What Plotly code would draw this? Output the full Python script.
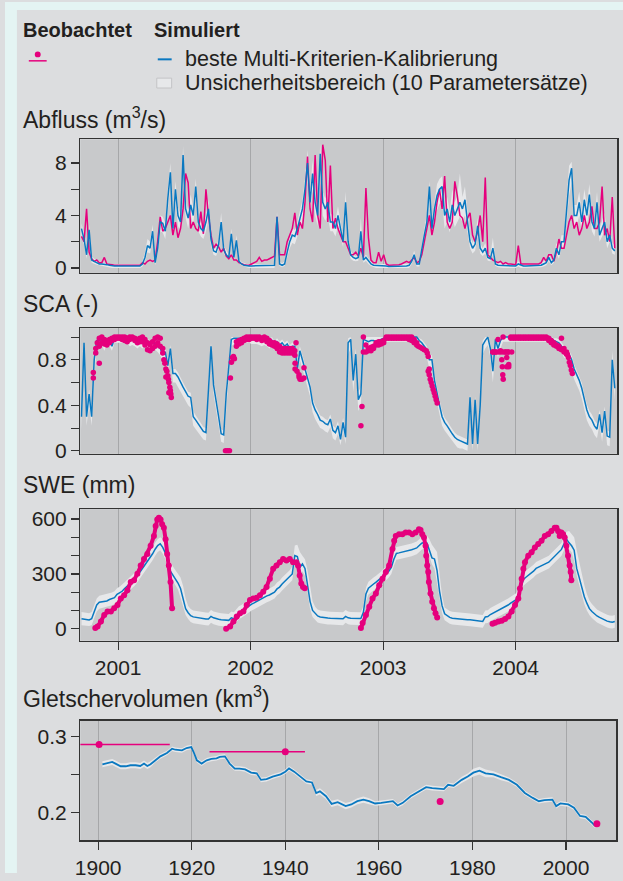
import numpy as np
import plotly.graph_objects as go

W, H = 623, 881

# ---------------- data ----------------
# weekly time grid (decimal years), first value 22 Sep 2000
T0 = 2000.7233
STEP = 7 / 365.25

# Abfluss (m3/s), weekly
q_obs = [2.4, 2.0, 4.5, 1.2, 0.7, 0.5, 0.6, 0.4, 0.4, 0.8,
         0.3, 0.3, 0.25, 0.2, 0.2, 0.2, 0.2, 0.2, 0.2, 0.2,
         0.2, 0.2, 0.2, 0.2, 0.4, 0.3, 0.5, 0.6, 0.5, 0.6,
         2.0, 3.9, 2.8, 3.0, 3.5, 4.0, 2.5, 3.5, 2.3, 3.0,
         4.5, 7.2, 6.5, 3.0, 3.5, 3.0, 2.8, 4.3, 2.6, 6.0,
         4.0, 2.5, 1.5, 1.8, 1.6, 1.2, 1.5, 0.9, 0.7, 1.0,
         0.6, 0.6, 0.4, 0.3, 0.25, 0.2, 0.2, 0.3, 0.4, 0.5,
         0.8, 0.5, 0.6, 0.6, 0.7, 0.8, 0.9, 3.9, 1.0, 1.0,
         1.0, 2.0, 2.5, 3.0, 4.2, 2.5, 3.5, 3.0, 5.0, 8.5,
         4.5, 3.5, 8.6, 4.0, 3.0, 9.4, 8.2, 3.5, 7.8, 3.0,
         3.8, 3.0, 2.5, 2.0, 2.0, 1.5, 1.0, 1.0, 1.2, 0.9,
         1.5, 0.8, 6.1, 2.3, 0.6, 0.4, 0.4, 1.2, 0.5, 1.0,
         0.3, 0.2, 0.2, 0.2, 0.2, 0.25, 0.3, 0.4, 0.5, 0.4,
         0.6, 0.8, 0.4, 0.5, 1.0, 2.0, 3.3, 4.0, 2.5, 3.5,
         5.0, 6.0, 4.5, 7.0, 3.5, 3.0, 3.5, 6.6, 5.5, 4.0,
         3.8, 3.0, 3.8, 4.2, 2.5, 2.0, 2.8, 4.0, 2.0, 6.9,
         1.0, 0.8, 0.6, 0.5, 0.4, 0.5, 0.3, 0.4, 0.3, 0.3,
         0.3, 0.25, 1.7, 0.3, 0.3, 0.3, 0.3, 0.3, 0.3, 0.3,
         0.3, 0.4, 0.8, 0.5, 1.0, 1.0, 0.5, 1.2, 2.2, 1.5,
         1.5, 2.5, 3.5, 4.0, 3.0, 3.5, 2.5, 3.0, 4.0, 3.0,
         3.5, 4.7, 3.0, 3.0, 3.5, 6.2, 2.5, 3.0, 2.0, 5.4, 1.5]
q_sim = [3.0, 2.2, 1.0, 2.9, 0.6, 0.5, 0.4, 0.3, 0.3, 0.3,
         0.25, 0.2, 0.15, 0.15, 0.15, 0.15, 0.15, 0.15, 0.15, 0.15,
         0.15, 0.15, 0.15, 0.15, 0.3, 0.8, 1.7, 1.5, 2.8, 0.4,
         1.5, 3.5, 3.4, 2.8, 5.3, 7.3, 3.0, 6.0, 4.0, 3.5,
         8.6, 4.5, 3.8, 4.8, 4.0, 6.2, 3.5, 3.0, 2.8, 3.5,
         4.5, 2.2, 1.3, 1.2, 1.8, 3.5, 1.4, 1.0, 0.8, 2.6,
         0.8, 2.1, 0.5, 0.3, 0.2, 0.15, 0.15, 0.15, 0.15, 0.15,
         0.2, 0.2, 0.2, 0.2, 0.2, 0.2, 0.2, 3.9, 0.3, 0.2,
         0.3, 1.2, 2.0, 2.5, 2.4, 3.0, 3.7, 4.5, 6.0, 8.0,
         5.0, 7.2, 5.0, 4.0, 8.7, 5.0, 4.5, 5.0, 3.5, 3.5,
         3.0, 4.0, 3.0, 2.0, 5.0, 2.0, 1.0, 0.8, 0.7, 0.8,
         2.8, 0.6, 0.8, 0.5, 0.3, 0.2, 0.2, 0.2, 0.2, 0.2,
         0.15, 0.1, 0.1, 0.1, 0.1, 0.1, 0.1, 0.15, 0.15, 0.2,
         0.5, 1.0, 0.3, 0.3, 1.5, 2.5, 3.5, 6.2, 3.0, 4.5,
         5.5, 6.0, 6.2, 4.0, 4.5, 3.5, 4.8, 4.0, 4.5, 5.0,
         4.5, 5.2, 3.5, 2.0, 1.5, 1.8, 3.2, 1.5, 1.2, 1.5,
         0.8, 0.7, 1.5, 0.3, 0.2, 0.2, 0.2, 0.2, 0.15, 0.15,
         0.15, 0.15, 0.3, 0.2, 0.15, 0.15, 0.15, 0.15, 0.15, 0.15,
         0.15, 0.2, 0.3, 0.4, 0.8, 0.4, 0.6, 1.5, 1.0, 2.0,
         2.0, 4.3, 6.7, 7.6, 4.0, 4.0, 5.0, 3.5, 5.2, 4.0,
         5.6, 3.5, 3.0, 5.0, 2.5, 3.0, 3.5, 2.0, 2.5, 1.5, 1.3]
q_hi = [3.4, 2.6, 1.4, 3.3, 0.9, 0.7, 0.6, 0.5, 0.4, 0.4,
        0.35, 0.3, 0.3, 0.3, 0.3, 0.3, 0.3, 0.3, 0.3, 0.3,
        0.3, 0.3, 0.3, 0.3, 0.5, 1.2, 2.2, 2.0, 3.3, 0.8,
        2.0, 4.0, 3.9, 3.4, 6.0, 8.0, 3.6, 6.6, 4.6, 4.1,
        9.3, 5.2, 4.4, 5.6, 4.6, 6.8, 4.0, 3.5, 3.2, 4.0,
        5.2, 2.6, 1.6, 1.5, 2.2, 4.2, 1.7, 1.3, 1.0, 3.0,
        1.0, 2.5, 0.7, 0.45, 0.35, 0.3, 0.3, 0.3, 0.3, 0.3,
        0.3, 0.3, 0.3, 0.3, 0.3, 0.3, 0.3, 4.3, 0.5, 0.35,
        0.5, 1.5, 2.4, 3.0, 2.9, 3.5, 4.3, 5.2, 6.8, 9.0,
        5.8, 8.2, 5.8, 4.7, 9.5, 5.8, 5.3, 5.8, 4.1, 4.1,
        3.6, 4.7, 3.5, 2.4, 5.8, 2.4, 1.3, 1.0, 0.9, 1.0,
        3.8, 0.8, 1.0, 0.7, 0.45, 0.35, 0.3, 0.3, 0.3, 0.3,
        0.3, 0.25, 0.25, 0.25, 0.25, 0.25, 0.25, 0.3, 0.3, 0.35,
        0.7, 1.3, 0.5, 0.5, 1.9, 3.0, 4.1, 6.6, 3.6, 5.2,
        6.4, 6.8, 7.0, 4.8, 5.4, 4.3, 6.0, 5.0, 5.5, 7.2,
        5.4, 6.2, 4.2, 2.5, 1.9, 2.3, 3.8, 1.9, 1.5, 1.9,
        1.1, 1.0, 2.3, 0.5, 0.4, 0.35, 0.35, 0.35, 0.3, 0.3,
        0.3, 0.3, 0.5, 0.35, 0.3, 0.3, 0.3, 0.3, 0.3, 0.3,
        0.3, 0.35, 0.5, 0.6, 1.1, 0.6, 0.9, 1.9, 1.4, 2.5,
        2.5, 5.0, 7.8, 8.1, 4.8, 4.8, 5.8, 4.2, 6.0, 4.8,
        6.4, 4.2, 3.6, 5.8, 3.0, 3.6, 4.2, 2.5, 3.0, 1.9, 1.7]
q_lo = [2.3, 1.8, 0.7, 2.3, 0.4, 0.3, 0.25, 0.2, 0.15, 0.15,
        0.1, 0.05, 0.0, 0.0, 0.0, 0.0, 0.0, 0.0, 0.0, 0.0,
        0.0, 0.0, 0.0, 0.0, 0.1, 0.5, 1.2, 1.1, 2.2, 0.2,
        1.1, 2.8, 2.7, 2.2, 4.4, 6.3, 2.3, 5.0, 3.2, 2.8,
        7.6, 3.8, 3.0, 4.0, 3.3, 5.3, 2.8, 2.4, 2.2, 2.8,
        3.7, 1.7, 1.0, 0.9, 1.4, 2.8, 1.1, 0.8, 0.6, 2.1,
        0.6, 1.7, 0.35, 0.2, 0.1, 0.05, 0.0, 0.0, 0.0, 0.0,
        0.0, 0.0, 0.0, 0.0, 0.0, 0.0, 0.0, 3.3, 0.15, 0.05,
        0.15, 0.8, 1.5, 1.9, 1.8, 2.4, 3.0, 3.6, 5.0, 6.8,
        4.0, 6.0, 4.0, 3.2, 7.4, 4.0, 3.6, 4.0, 2.8, 2.8,
        2.4, 3.2, 2.4, 1.6, 4.0, 1.5, 0.7, 0.55, 0.5, 0.55,
        2.0, 0.4, 0.55, 0.3, 0.15, 0.05, 0.0, 0.0, 0.0, 0.0,
        0.0, -0.05, -0.05, -0.05, -0.05, -0.05, -0.05, -0.05, -0.05, 0.0,
        0.3, 0.7, 0.1, 0.1, 1.1, 1.9, 2.8, 5.0, 2.3, 3.6,
        4.4, 4.9, 5.0, 3.0, 3.5, 2.7, 3.8, 3.1, 3.5, 3.9,
        3.5, 4.0, 2.7, 1.5, 1.1, 1.3, 2.5, 1.1, 0.9, 1.1,
        0.55, 0.5, 1.0, 0.15, 0.05, 0.0, 0.0, 0.0, 0.0, 0.0,
        0.0, 0.0, 0.1, 0.0, 0.0, 0.0, 0.0, 0.0, 0.0, 0.0,
        0.0, 0.05, 0.1, 0.2, 0.5, 0.2, 0.4, 1.1, 0.7, 1.5,
        1.5, 3.5, 5.5, 6.5, 3.2, 3.2, 4.0, 2.8, 4.2, 3.2,
        4.6, 2.8, 2.4, 4.0, 2.0, 2.4, 2.8, 1.5, 2.0, 1.1, 1.0]

# SCA (-), weekly
sca_sim = [0.3, 0.95, 0.3, 0.5, 0.3, 0.8, 0.97, 0.97, 0.98, 0.93,
           0.98, 0.97, 0.92, 0.99, 0.99, 0.99, 0.99, 0.99, 0.99, 0.97,
           0.98, 0.97, 0.95, 0.97, 0.95, 0.98, 0.96, 0.93, 0.95, 0.94,
           0.92, 0.9, 0.85, 0.87, 0.75, 0.9, 0.68, 0.68, 0.65, 0.6,
           0.56, 0.52, 0.48, 0.47, 0.3, 0.27, 0.24, 0.2, 0.17, 0.16,
           0.6, 0.92, 0.58, 0.45, 0.3, 0.15, 0.14, 0.5, 0.75, 0.98,
           0.99, 0.99, 0.99, 0.99, 1.0, 1.0, 1.0, 0.99, 0.99, 0.99, 0.98, 0.97, 0.98,
           0.97, 0.95, 0.97, 0.93, 0.96, 0.93, 0.95, 0.92, 0.94, 0.9, 0.92, 0.92,
           0.72, 0.88, 0.8, 0.72, 0.65, 0.56, 0.42, 0.36, 0.32, 0.27,
           0.26, 0.24, 0.23, 0.28, 0.18, 0.16, 0.22, 0.1, 0.25, 0.12,
           0.95, 0.98, 0.62, 0.85, 0.45, 0.5, 0.98,
           0.97, 0.96, 0.97, 0.97, 0.96, 0.97, 0.98, 0.99,
           1.0, 1.0, 1.0, 1.0, 1.0, 1.0, 1.0, 1.0, 1.0, 1.0, 1.0, 1.0, 1.0,
           0.97, 0.95, 0.92, 0.89, 0.8, 0.8, 0.62, 0.5, 0.4, 0.3,
           0.25, 0.22, 0.18, 0.15, 0.12, 0.1, 0.09, 0.08, 0.07, 0.06,
           0.47, 0.06, 0.45, 0.06, 0.4,
           0.93, 0.97, 1.0, 0.9, 0.7, 0.98, 0.9, 0.97,
           1.0, 1.0, 1.0, 1.0, 1.0, 1.0, 1.0, 1.0, 1.0, 1.0,
           1.0, 1.0, 1.0, 1.0, 1.0, 1.0, 1.0, 1.0, 1.0,
           0.99, 0.97, 0.96, 0.95, 0.92, 0.89, 0.87, 0.85, 0.8, 0.72,
           0.67, 0.62, 0.55, 0.45, 0.36, 0.3, 0.27, 0.22, 0.19, 0.32,
           0.16, 0.35, 0.13, 0.12, 0.8, 0.55]
sca_hi = [0.34, 0.97, 0.34, 0.54, 0.34, 0.85, 0.99, 0.99, 1.0, 0.96,
          1.0, 1.0, 1.0, 1.0, 1.0, 1.0, 1.0, 1.0, 1.0, 1.0,
          1.0, 1.0, 0.98, 1.0, 0.98, 1.0, 0.99, 0.96, 0.98, 0.97,
          0.95, 0.94, 0.9, 0.9, 0.8, 0.93, 0.72, 0.72, 0.69, 0.64,
          0.6, 0.56, 0.52, 0.51, 0.35, 0.31, 0.28, 0.24, 0.21, 0.2,
          0.66, 0.95, 0.63, 0.5, 0.35, 0.19, 0.18, 0.55, 0.8, 1.0,
          1.0, 1.0, 1.0, 1.0, 1.0, 1.0, 1.0, 1.0, 1.0, 1.0, 1.0, 1.0, 1.0,
          1.0, 0.98, 1.0, 0.96, 0.99, 0.96, 0.98, 0.95, 0.97, 0.93, 0.95, 0.95,
          0.78, 0.92, 0.84, 0.76, 0.69, 0.6, 0.46, 0.4, 0.36, 0.31,
          0.3, 0.28, 0.27, 0.32, 0.22, 0.2, 0.26, 0.14, 0.29, 0.16,
          0.99, 1.0, 0.68, 0.9, 0.52, 0.56, 1.0,
          1.0, 1.0, 1.0, 1.0, 1.0, 1.0, 1.0, 1.0,
          1.0, 1.0, 1.0, 1.0, 1.0, 1.0, 1.0, 1.0, 1.0, 1.0, 1.0, 1.0, 1.0,
          0.99, 0.98, 0.95, 0.92, 0.85, 0.84, 0.67, 0.55, 0.45, 0.35,
          0.29, 0.26, 0.22, 0.19, 0.16, 0.14, 0.13, 0.12, 0.11, 0.1,
          0.5, 0.1, 0.48, 0.1, 0.44,
          0.97, 1.0, 1.0, 0.94, 0.76, 1.0, 0.94, 1.0,
          1.0, 1.0, 1.0, 1.0, 1.0, 1.0, 1.0, 1.0, 1.0, 1.0,
          1.0, 1.0, 1.0, 1.0, 1.0, 1.0, 1.0, 1.0, 1.0,
          1.0, 0.99, 0.99, 0.98, 0.95, 0.92, 0.9, 0.88, 0.84, 0.76,
          0.71, 0.66, 0.6, 0.5, 0.41, 0.35, 0.32, 0.27, 0.24, 0.36,
          0.21, 0.39, 0.18, 0.17, 0.88, 0.6]
sca_lo = [0.18, 0.85, 0.22, 0.4, 0.22, 0.65, 0.9, 0.92, 0.93, 0.88,
          0.93, 0.92, 0.88, 0.95, 0.95, 0.95, 0.95, 0.95, 0.95, 0.92,
          0.93, 0.92, 0.9, 0.92, 0.9, 0.93, 0.91, 0.88, 0.9, 0.89,
          0.87, 0.84, 0.78, 0.8, 0.68, 0.84, 0.6, 0.6, 0.56, 0.52,
          0.48, 0.44, 0.4, 0.38, 0.22, 0.19, 0.16, 0.13, 0.1, 0.09,
          0.5, 0.85, 0.5, 0.37, 0.22, 0.08, 0.07, 0.4, 0.65, 0.92,
          0.94, 0.94, 0.94, 0.94, 0.95, 0.95, 0.95, 0.94, 0.94, 0.94, 0.93, 0.92, 0.93,
          0.92, 0.9, 0.92, 0.88, 0.91, 0.88, 0.9, 0.87, 0.89, 0.85, 0.86, 0.85,
          0.64, 0.8, 0.72, 0.64, 0.57, 0.48, 0.34, 0.28, 0.24, 0.2,
          0.19, 0.17, 0.16, 0.21, 0.11, 0.09, 0.15, 0.05, 0.18, 0.06,
          0.85, 0.9, 0.52, 0.75, 0.35, 0.4, 0.9,
          0.92, 0.91, 0.92, 0.92, 0.91, 0.92, 0.93, 0.94,
          0.96, 0.96, 0.96, 0.96, 0.96, 0.96, 0.96, 0.96, 0.96, 0.96, 0.96, 0.96, 0.96,
          0.93, 0.9, 0.86, 0.82, 0.72, 0.72, 0.54, 0.42, 0.32, 0.22,
          0.18, 0.15, 0.11, 0.08, 0.05, 0.03, 0.02, 0.02, 0.01, 0.0,
          0.4, 0.0, 0.38, 0.0, 0.33,
          0.85, 0.9, 0.93, 0.82, 0.6, 0.9, 0.82, 0.9,
          0.96, 0.96, 0.96, 0.96, 0.96, 0.96, 0.96, 0.96, 0.96, 0.96,
          0.96, 0.96, 0.96, 0.96, 0.96, 0.96, 0.96, 0.96, 0.96,
          0.94, 0.92, 0.91, 0.89, 0.86, 0.82, 0.8, 0.77, 0.71, 0.63,
          0.58, 0.53, 0.46, 0.36, 0.27, 0.22, 0.19, 0.14, 0.11, 0.24,
          0.08, 0.27, 0.05, 0.04, 0.7, 0.45]

# observed SCA on the weekly grid (two readings per week, None = no observation)
N7, N28, N26, N29, N19 = [None] * 7, [None] * 28, [None] * 26, [None] * 29, [None] * 19
sca_obs_a = (N7 +
             [0.99, 1.0, 0.98, 0.97, 0.98, 0.99, 1.0, 1.0, 1.0, 1.0, 1.0, 0.99, 1.0,
              1.0, 0.99, 0.98, 0.99, 1.0, 0.98, 0.95, 0.93, 0.96, 0.99, 1.0, 0.99, 0.9] + N28 +
             [0.96, 0.97, 0.98, 0.99, 1.0, 1.0, 1.0, 1.0, 1.0, 1.0, 0.99, 1.0,
              0.99, 0.97, 0.95, 0.95, 0.94, 0.92, 0.9, 0.9, 0.9, 0.9, 0.9, 0.88] + N26 +
             [1.0, 0.93, 0.9, 0.91, 0.92, 0.95, 0.96, 0.96, 0.97, 1.0, 1.0,
              1.0, 1.0, 1.0, 1.0, 1.0, 1.0, 1.0, 1.0, 1.0, 0.98, 0.95] + N29 +
             [0.87, 0.87, 0.98, 0.88, 1.0, 0.87, 0.87, 1.0, 1.0, 1.0, 1.0, 1.0, 1.0, 1.0, 1.0,
              1.0, 1.0, 1.0, 1.0, 1.0, 1.0, 1.0, 0.99, 0.97, 0.95, 0.93, 0.92, 0.99, 0.9, 0.87] + N19)
sca_obs_b = (N7 +
             [0.92, 0.95, 0.94, 0.93, 0.95, 0.97, 0.98, 0.99, 0.99, 0.98, 0.97, 0.96, 0.98,
              0.99, 0.97, 0.95, 0.96, 0.96, 0.93, 0.89, 0.88, 0.9, 0.92, 0.95, 0.92, 0.86] + N28 +
             [0.92, 0.94, 0.95, 0.97, 0.98, 0.98, 0.99, 0.99, 0.98, 0.99, 0.97, 0.98,
              0.96, 0.94, 0.93, 0.92, 0.9, 0.87, 0.86, 0.86, 0.86, 0.86, 0.86, 0.84] + N26 +
             [0.87, 0.87, 0.88, 0.88, 0.9, 0.93, 0.93, 0.94, 0.95, 0.99, 0.99,
              0.99, 0.99, 0.99, 0.99, 0.99, 0.99, 0.99, 0.98, 0.97, 0.95, 0.93] + N29 +
             [0.87, 0.87, 0.87, 0.87, 0.87, 0.87, 0.87, 0.99, 0.99, 0.99, 0.99, 0.99, 0.99, 0.99, 0.99,
              0.99, 0.99, 0.99, 0.99, 0.99, 0.99, 0.99, 0.97, 0.95, 0.93, 0.92, 0.9, 0.89, 0.87, 0.85] + N19)
# further observed SCA values (decimal year, value)
sca_ext_t = [2000.8125, 2000.8125, 2000.831, 2000.831, 2000.8425, 2000.8575,
             2001.345, 2001.3525, 2001.36, 2001.36, 2001.3675, 2001.375, 2001.379, 2001.3825,
             2001.3825, 2001.39, 2001.394, 2001.3975, 2001.401,
             2001.81, 2001.825, 2001.84, 2001.8475, 2001.855, 2001.8625, 2001.87, 2001.8775,
             2002.3425, 2002.335, 2002.335, 2002.35, 2002.365, 2002.365, 2002.3725, 2002.3875,
             2002.4025, 2002.4025,
             2002.832, 2002.84, 2003.265, 2003.28, 2003.295, 2003.31, 2003.325, 2003.3325,
             2003.34, 2003.34, 2003.3475, 2003.3475, 2003.355, 2003.3625, 2003.37, 2003.3775,
             2003.385, 2003.3925, 2003.40, 2003.4075,
             2003.895, 2003.899, 2003.9025, 2003.906, 2003.9325, 2003.9325, 2003.9475, 2003.9475,
             2003.97, 2004.39, 2004.3975, 2004.405, 2004.4125, 2004.42, 2004.4275]
sca_ext_v = [0.69, 0.64, 0.86, 0.9, 0.95, 0.77,
             0.8, 0.77, 0.72, 0.65, 0.7, 0.66, 0.63, 0.6,
             0.51, 0.56, 0.53, 0.5, 0.47,
             0.0, 0.0, 0.0, 0.64, 0.78, 0.82, 0.83, 0.81,
             0.95, 0.77, 0.72, 0.7, 0.67, 0.65, 0.63, 0.63,
             0.64, 0.73,
             0.22, 0.39, 0.92, 0.91, 0.9, 0.89, 0.88, 0.86,
             0.83, 0.7, 0.67, 0.72, 0.63, 0.6, 0.57, 0.54,
             0.51, 0.48, 0.45, 0.42,
             0.8, 0.74, 0.67, 0.63, 0.82, 0.74, 0.74, 0.76,
             0.87, 0.85, 0.82, 0.78, 0.75, 0.71, 0.68]

# SWE (mm), weekly
swe_sim = [55, 52, 50, 48, 55, 90, 130, 145, 148, 150,
           152, 160, 163, 170, 188, 195, 205, 220, 232, 245,
           260, 272, 290, 310, 330, 345, 368, 392, 410, 435,
           455, 465, 445, 415, 375, 315, 295, 275, 250, 220,
           160, 110, 88, 72, 65, 62, 60, 58, 56, 54,
           53, 68, 60, 55, 52, 50, 48, 47, 46, 60,
           55, 72, 88, 95, 105, 120, 128, 135, 142, 150,
           160, 168, 175, 180, 185, 192, 200, 218, 228, 245,
           258, 270, 285, 300, 400, 395, 335, 355, 330, 250,
           150, 100, 85, 70, 65, 62, 60, 59, 58, 58,
           57, 56, 55, 55, 68, 60, 57, 56, 55, 55,
           56, 90, 190, 222, 235, 245, 255, 265, 278, 295,
           302, 315, 335, 380, 412, 415, 418, 420, 424, 428,
           432, 437, 442, 455, 468, 473, 470, 430, 388, 382,
           320, 205, 125, 82, 70, 62, 58, 56, 54, 53,
           52, 51, 50, 49, 48, 46, 44, 42, 40, 65,
           67, 78, 85, 95, 103, 108, 115, 121, 130, 140,
           148, 158, 180, 225, 270, 282, 292, 302, 315, 330,
           338, 345, 352, 358, 364, 378, 392, 405, 418, 434,
           465, 490, 470, 454, 430, 330, 280, 225, 175, 140,
           110, 94, 80, 70, 62, 54, 48, 42, 38, 36, 40]
swe_hi = [92, 90, 88, 85, 92, 125, 165, 180, 183, 185,
          188, 195, 198, 205, 222, 230, 240, 255, 268, 280,
          295, 308, 325, 345, 365, 380, 403, 428, 445, 470,
          490, 500, 490, 465, 430, 370, 340, 320, 300, 280,
          235, 165, 125, 108, 100, 97, 95, 93, 91, 89,
          88, 103, 95, 90, 87, 85, 83, 82, 81, 95,
          90, 107, 123, 130, 140, 155, 163, 170, 177, 185,
          195, 203, 210, 215, 220, 227, 235, 253, 263, 280,
          293, 305, 320, 340, 455, 460, 420, 400, 380, 320,
          230, 150, 120, 105, 100, 97, 95, 94, 93, 93,
          92, 91, 90, 90, 103, 95, 92, 91, 90, 90,
          91, 125, 225, 257, 270, 280, 290, 300, 313, 330,
          337, 350, 370, 415, 447, 450, 453, 455, 459, 463,
          467, 472, 477, 490, 503, 510, 510, 490, 460, 440,
          420, 300, 180, 117, 105, 97, 93, 91, 89, 88,
          87, 86, 85, 84, 83, 81, 79, 77, 75, 100,
          102, 113, 120, 130, 138, 143, 150, 156, 165, 175,
          183, 193, 215, 260, 305, 317, 327, 337, 350, 365,
          373, 380, 387, 393, 399, 413, 427, 440, 453, 469,
          500, 530, 535, 520, 500, 430, 360, 300, 240, 190,
          155, 135, 118, 105, 97, 89, 83, 77, 73, 71, 75]
swe_lo = [20, 18, 17, 15, 20, 55, 95, 110, 113, 115,
          118, 125, 128, 135, 153, 160, 170, 185, 197, 210,
          225, 237, 255, 275, 295, 310, 333, 357, 375, 400,
          420, 430, 410, 380, 335, 280, 260, 240, 215, 170,
          120, 75, 53, 37, 30, 27, 25, 23, 21, 19,
          18, 33, 25, 20, 17, 15, 13, 12, 11, 25,
          20, 37, 53, 60, 70, 85, 93, 100, 107, 115,
          125, 133, 140, 145, 150, 157, 165, 183, 193, 210,
          223, 235, 250, 265, 360, 355, 300, 315, 290, 200,
          110, 65, 50, 35, 30, 27, 25, 24, 23, 23,
          22, 21, 20, 20, 33, 25, 22, 21, 20, 20,
          21, 55, 150, 187, 200, 210, 220, 230, 243, 260,
          267, 280, 300, 345, 377, 380, 383, 385, 389, 393,
          397, 402, 407, 420, 433, 438, 435, 395, 353, 330,
          250, 150, 85, 47, 35, 27, 23, 21, 19, 18,
          17, 16, 15, 14, 13, 11, 9, 7, 5, 30,
          32, 43, 50, 60, 68, 73, 80, 86, 95, 105,
          113, 123, 145, 190, 235, 247, 257, 267, 280, 295,
          303, 310, 317, 323, 329, 343, 357, 370, 383, 399,
          430, 455, 435, 419, 370, 290, 240, 185, 135, 100,
          75, 59, 45, 35, 27, 19, 13, 7, 3, 1, 5]
# observed SWE (decimal year, mm); None separates the winters
swe_obs_t = [2000.8275, 2000.8448, 2000.870, 2000.895, 2000.920, 2000.945, 2000.970, 2000.995,
             2001.020, 2001.045, 2001.070, 2001.095, 2001.120, 2001.145, 2001.170, 2001.195,
             2001.220, 2001.245, 2001.270, 2001.283, 2001.295, 2001.3075, 2001.320, 2001.332,
             2001.345, 2001.358, 2001.370, 2001.3825, 2001.395, 2001.407, None,
             2001.815, 2001.845, 2001.870, 2001.895, 2001.920, 2001.945, 2001.970, 2001.995,
             2002.020, 2002.045, 2002.070, 2002.095, 2002.120, 2002.145, 2002.170, 2002.195,
             2002.220, 2002.245, 2002.270, 2002.295, 2002.320, 2002.345, 2002.3575, 2002.370,
             2002.382, 2002.395, 2002.408, None,
             2002.832, 2002.845, 2002.870, 2002.895, 2002.920, 2002.945, 2002.970, 2002.995,
             2003.020, 2003.045, 2003.070, 2003.083, 2003.095, 2003.120, 2003.145, 2003.170,
             2003.195, 2003.220, 2003.245, 2003.270, 2003.282, 2003.295, 2003.308, 2003.320,
             2003.325, 2003.3325, 2003.340, 2003.345, 2003.357, 2003.370, 2003.383, 2003.395,
             2003.4075, None,
             2003.825, 2003.845, 2003.870, 2003.895, 2003.920, 2003.945, 2003.970, 2003.995,
             2004.020, 2004.032, 2004.045, 2004.058, 2004.070, 2004.095, 2004.120, 2004.145,
             2004.170, 2004.195, 2004.220, 2004.245, 2004.270, 2004.295, 2004.3075, 2004.320,
             2004.332, 2004.345, 2004.358, 2004.370, 2004.3825, 2004.395, 2004.407, 2004.415,
             2004.420]
swe_obs_v = [4, 13, 40, 76, 94, 94, 112, 130,
             166, 184, 211, 256, 265, 301, 346, 382,
             409, 454, 508, 562, 598, 607, 598, 571,
             553, 490, 409, 346, 256, 112, None,
             0, 13, 40, 67, 85, 94, 130, 157,
             166, 170, 184, 202, 229, 274, 328, 346,
             364, 382, 373, 382, 364, 364, 346, 292,
             247, 229, 222, None,
             4, 31, 76, 121, 166, 193, 238, 274,
             310, 346, 436, 481, 508, 517, 517, 526,
             526, 517, 526, 544, 540, 517, 499, 454,
             400, 346, 310, 256, 193, 148, 112, 85,
             62, None,
             27, 33, 40, 44, 54, 67, 94, 130,
             166, 220, 274, 328, 364, 400, 418, 445,
             463, 481, 508, 517, 535, 553, 553, 535,
             508, 526, 517, 499, 454, 400, 346, 310,
             265]

# Gletschervolumen (km3)
gv_year = [1900.9, 1902, 1903, 1903.7, 1904.8, 1905.9, 1906.9, 1908, 1909, 1909.8,
           1910.5, 1911.2, 1912.2, 1913.3, 1914.7, 1915.8, 1916.5, 1917.9, 1918.9, 1919.9,
           1920.4, 1921.1, 1922.1, 1923.2, 1924.2, 1925.3, 1926, 1927.1, 1928.1, 1929.2,
           1930.2, 1931.4, 1932.7, 1933.9, 1934.8, 1936, 1937.3, 1939, 1940, 1940.8,
           1941.9, 1943.2, 1944.5, 1945.7, 1946.6, 1947.4, 1948.7, 1949.9, 1951.2, 1952.9,
           1954.1, 1955.4, 1956.7, 1957.9, 1959.2, 1960.5, 1961.7, 1963, 1964, 1965.1,
           1966.8, 1968.5, 1970.1, 1971.4, 1972.7, 1973.9, 1974.8, 1976, 1977.7, 1979,
           1980.2, 1981.5, 1982.8, 1984.5, 1986.1, 1987.8, 1989.5, 1991.2, 1992.9, 1994.2,
           1995.4, 1997.1, 1997.9, 1998.8, 2000.5, 2001.7, 2003, 2004.2, 2005.5, 2006.2]
gv_sim = [0.2636, 0.2655, 0.2667, 0.2645, 0.261, 0.261, 0.2623, 0.2623, 0.2614, 0.2645,
          0.2614, 0.2636, 0.2688, 0.274, 0.2784, 0.284, 0.2827, 0.2818, 0.2849, 0.2862,
          0.2797, 0.2688, 0.2645, 0.2688, 0.2706, 0.2715, 0.2732, 0.274, 0.2645, 0.258,
          0.258, 0.2569, 0.2526, 0.2517, 0.2431, 0.244, 0.2474, 0.2504, 0.2539, 0.2582,
          0.2539, 0.2474, 0.241, 0.2397, 0.2259, 0.228, 0.2216, 0.2116, 0.2138, 0.2086,
          0.2108, 0.2151, 0.2172, 0.2151, 0.2121, 0.2129, 0.2138, 0.2151, 0.2095, 0.2129,
          0.2216, 0.228, 0.2336, 0.2323, 0.2319, 0.231, 0.2366, 0.2353, 0.2431, 0.2474,
          0.2526, 0.2552, 0.2517, 0.2504, 0.2466, 0.2431, 0.2366, 0.2259, 0.2194, 0.2151,
          0.2164, 0.2172, 0.2086, 0.2121, 0.2108, 0.2065, 0.1957, 0.1944, 0.1871, 0.1828]
gv_half = [0.004, 0.004, 0.004, 0.004, 0.004, 0.004, 0.004, 0.004, 0.004, 0.004,
           0.004, 0.004, 0.003, 0.003, 0.003, 0.003, 0.003, 0.003, 0.003, 0.003,
           0.003, 0.003, 0.003, 0.003, 0.003, 0.003, 0.003, 0.003, 0.003, 0.003,
           0.003, 0.003, 0.003, 0.003, 0.003, 0.003, 0.003, 0.003, 0.003, 0.003,
           0.003, 0.003, 0.003, 0.003, 0.004, 0.004, 0.004, 0.004, 0.004, 0.004,
           0.004, 0.004, 0.004, 0.004, 0.003, 0.003, 0.003, 0.003, 0.003, 0.003,
           0.003, 0.003, 0.003, 0.003, 0.003, 0.003, 0.003, 0.003, 0.004, 0.004,
           0.005, 0.005, 0.005, 0.004, 0.004, 0.003, 0.003, 0.003, 0.003, 0.003,
           0.003, 0.003, 0.003, 0.003, 0.003, 0.003, 0.003, 0.003, 0.003, 0.003]
gv_obs_year = [1900.2, 1940.0, 1973.1, 2006.6]
gv_obs = [0.2896, 0.2802, 0.2148, 0.1853]
gv_obs_from = [1890.0, 1923.8]
gv_obs_to = [1915.3, 1944.2]
gv_obs_level = [0.2896, 0.2802]

# ---------------- styling ----------------
BLUE = '#0a78c0'
MAG = '#e5007d'
BAND = '#e7e8ea'
PLOTBG = '#c8c9cb'
PANEL = '#dcdddf'
FRAME = '#333333'
GRID = '#a6a7a9'
TXT = '#231f20'
FONT = 'Liberation Sans, Arial, sans-serif'


def px(x):
    return x / W


def py(y):
    return 1 - y / H


def weeks(n):
    return T0 + STEP * np.arange(n)


fig = go.Figure()


def band(x, lo, hi, xa, ya):
    fig.add_trace(go.Scatter(x=x, y=lo, mode='lines', line=dict(width=0, color=BAND),
                             xaxis=xa, yaxis=ya, hoverinfo='skip'))
    fig.add_trace(go.Scatter(x=x, y=hi, mode='lines', line=dict(width=0, color=BAND),
                             fill='tonexty', fillcolor=BAND, xaxis=xa, yaxis=ya, hoverinfo='skip'))


# panel 1 : Abfluss
tq = weeks(len(q_sim))
band(tq, q_lo, q_hi, 'x', 'y')
fig.add_trace(go.Scatter(x=tq, y=q_obs, mode='lines', line=dict(color=MAG, width=1.5), xaxis='x', yaxis='y'))
fig.add_trace(go.Scatter(x=tq, y=q_sim, mode='lines', line=dict(color=BLUE, width=1.5), xaxis='x', yaxis='y'))

# panel 2 : SCA
ts = weeks(len(sca_sim))
band(ts, sca_lo, sca_hi, 'x2', 'y2')
fig.add_trace(go.Scatter(x=ts, y=sca_sim, mode='lines', line=dict(color=BLUE, width=1.5), xaxis='x2', yaxis='y2'))
for vals in (sca_obs_a, sca_obs_b):
    fig.add_trace(go.Scatter(x=weeks(len(vals)), y=vals, mode='markers',
                             marker=dict(color=MAG, size=5.5, line=dict(width=0)), xaxis='x2', yaxis='y2'))
fig.add_trace(go.Scatter(x=sca_ext_t, y=sca_ext_v, mode='markers',
                         marker=dict(color=MAG, size=5.5, line=dict(width=0)), xaxis='x2', yaxis='y2'))

# panel 3 : SWE
tw = weeks(len(swe_sim))
band(tw, swe_lo, swe_hi, 'x3', 'y3')
fig.add_trace(go.Scatter(x=tw, y=swe_sim, mode='lines', line=dict(color=BLUE, width=1.5), xaxis='x3', yaxis='y3'))
fig.add_trace(go.Scatter(x=swe_obs_t, y=swe_obs_v, mode='lines+markers', connectgaps=False,
                         line=dict(color=MAG, width=4), marker=dict(color=MAG, size=6, line=dict(width=0)),
                         xaxis='x3', yaxis='y3'))

# panel 4 : Gletschervolumen
gv_lo = [v - h for v, h in zip(gv_sim, gv_half)]
gv_hi = [v + h for v, h in zip(gv_sim, gv_half)]
band(gv_year, gv_lo, gv_hi, 'x4', 'y4')
fig.add_trace(go.Scatter(x=gv_year, y=gv_sim, mode='lines', line=dict(color=BLUE, width=1.8), xaxis='x4', yaxis='y4'))
for a, b, lev in zip(gv_obs_from, gv_obs_to, gv_obs_level):
    fig.add_trace(go.Scatter(x=[a, b], y=[lev, lev], mode='lines', line=dict(color=MAG, width=1.5),
                             xaxis='x4', yaxis='y4'))
fig.add_trace(go.Scatter(x=gv_obs_year, y=gv_obs, mode='markers', marker=dict(color=MAG, size=7),
                         xaxis='x4', yaxis='y4'))

# ---------------- axes ----------------
XD = [px(76), px(617)]
tickfont = dict(family=FONT, size=21, color=TXT)
common_x = dict(domain=XD, showgrid=True, gridcolor=GRID, gridwidth=1, zeroline=False,
                showline=True, mirror=True, linecolor=FRAME, linewidth=1.5)
common_y = dict(showgrid=False, zeroline=False, showline=True, mirror=True, linecolor=FRAME,
                linewidth=1.5, ticks='outside', ticklen=8, tickwidth=1.2, tickcolor=FRAME,
                tickfont=tickfont)
years = [2001, 2002, 2003, 2004]
XR = [2000.715, 2004.765]

layout_axes = dict(
    xaxis=dict(common_x, range=XR, tickvals=years, showticklabels=False, ticks='', anchor='y'),
    yaxis=dict(common_y, domain=[py(274), py(139)], range=[-0.38, 9.8], tickvals=[0, 4, 8],
               ticktext=['0', '4', '8'], anchor='x',
               minor=dict(tickvals=[2, 6], ticks='outside', ticklen=8, tickwidth=1.2, tickcolor=FRAME)),
    xaxis2=dict(common_x, range=XR, tickvals=years, showticklabels=False, ticks='', anchor='y2'),
    yaxis2=dict(common_y, domain=[py(457), py(330)], range=[-0.026, 1.078], tickvals=[0, 0.4, 0.8],
                ticktext=['0', '0.4', '0.8'], anchor='x2',
                minor=dict(tickvals=[0.2, 0.6, 1.0], ticks='outside', ticklen=8, tickwidth=1.2, tickcolor=FRAME)),
    xaxis3=dict(common_x, range=XR, tickvals=years, ticktext=[str(y) for y in years], ticks='outside',
                ticklen=8, tickwidth=1.2, tickcolor=FRAME, tickfont=tickfont, anchor='y3'),
    yaxis3=dict(common_y, domain=[py(646), py(513)], range=[-65, 654], tickvals=[0, 300, 600],
                ticktext=['0', '300', '600'], anchor='x3',
                minor=dict(tickvals=[100, 200, 400, 500], ticks='outside', ticklen=8, tickwidth=1.2, tickcolor=FRAME)),
    xaxis4=dict(common_x, domain=[px(76), px(616)], range=[1896.2, 2010.7],
                tickvals=[1900, 1920, 1940, 1960, 1980, 2000],
                ticktext=['1900', '1920', '1940', '1960', '1980', '2000'], ticks='outside',
                ticklen=8, tickwidth=1.2, tickcolor=FRAME, tickfont=tickfont, anchor='y4'),
    yaxis4=dict(common_y, domain=[py(848), py(727)], range=[0.1636, 0.3208], tickvals=[0.2, 0.3],
                ticktext=['0.2', '0.3'], anchor='x4',
                minor=dict(tickvals=[0.25], ticks='outside', ticklen=8, tickwidth=1.2, tickcolor=FRAME)),
)

# ---------------- text & legend ----------------
def note(text, x, y, size, bold=False):
    return dict(text=('<b>%s</b>' % text) if bold else text, x=px(x), y=py(y), xref='paper', yref='paper',
                xanchor='left', yanchor='middle', showarrow=False,
                font=dict(family=FONT, size=size, color=TXT))

annotations = [
    note('Beobachtet', 16, 28, 20, True),
    note('Simuliert', 148, 28, 20, True),
    note('beste Multi-Kriterien-Kalibrierung', 179, 57.5, 21.5),
    note('Unsicherheitsbereich (10 Parametersätze)', 179, 82, 21.5),
    note('Abfluss (m<sup>3</sup>/s)', 16, 117, 23),
    note('SCA (-)', 16, 305, 23),
    note('SWE (mm)', 16, 489, 23),
    note('Gletschervolumen (km<sup>3</sup>)', 16, 703, 23),
]

shapes = [
    dict(type='rect', xref='paper', yref='paper', x0=0, x1=px(12), y0=0, y1=1,
         fillcolor='#e4f4f3', line=dict(width=0), layer='below'),
    dict(type='rect', xref='paper', yref='paper', x0=0, x1=1, y0=py(8), y1=1,
         fillcolor='#e4f4f3', line=dict(width=0), layer='below'),
    dict(type='circle', xref='paper', yref='paper', x0=px(30), x1=px(36), y0=py(56), y1=py(50),
         fillcolor=MAG, line=dict(width=0)),
    dict(type='line', xref='paper', yref='paper', x0=px(24), x1=px(42), y0=py(59.5), y1=py(59.5),
         line=dict(color=MAG, width=1.5)),
    dict(type='line', xref='paper', yref='paper', x0=px(154), x1=px(168), y0=py(58), y1=py(58),
         line=dict(color=BLUE, width=2)),
    dict(type='rect', xref='paper', yref='paper', x0=px(153), x1=px(168), y0=py(87), y1=py(77),
         fillcolor=BAND, line=dict(color='#c3c4c6', width=1)),
]

fig.update_layout(
    width=W, height=H, margin=dict(l=0, r=0, t=0, b=0),
    paper_bgcolor=PANEL, plot_bgcolor=PLOTBG, showlegend=False,
    font=dict(family=FONT, color=TXT),
    annotations=annotations, shapes=shapes, **layout_axes)

# the page's default body margin would shift the figure by 8 px
fig.write_html('out.html', config={'displayModeBar': False, 'staticPlot': True},
               post_script="document.body.style.margin='0';document.body.style.overflow='hidden';")
